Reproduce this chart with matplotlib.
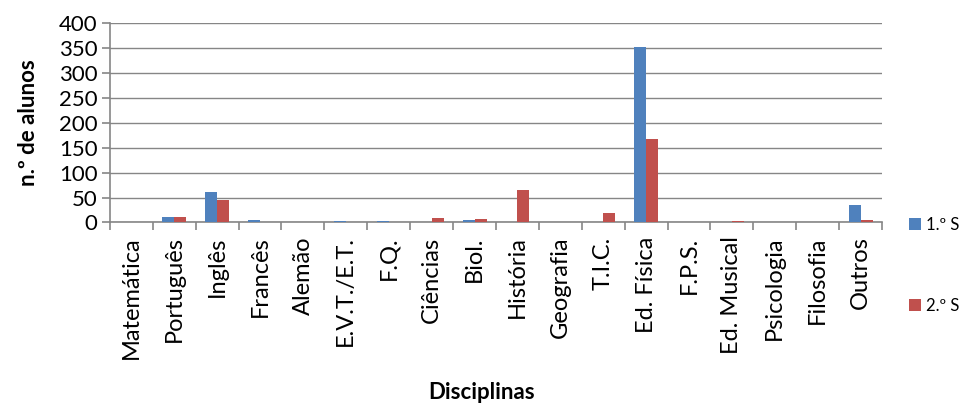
import numpy as np
import matplotlib
matplotlib.use('Agg')
import matplotlib.pyplot as plt

plt.rcParams['font.family'] = ['Lato', 'DejaVu Sans']

disciplinas = ['Matemática', 'Português', 'Inglês', 'Francês', 'Alemão', 'E.V.T./E.T.',
               'F.Q.', 'Ciências', 'Biol.', 'História', 'Geografia', 'T.I.C.',
               'Ed. Física', 'F.P.S.', 'Ed. Musical', 'Psicologia', 'Filosofia', 'Outros']
sem1 = [0, 11, 62, 6, 1, 3, 3, 0, 6, 2, 1, 0, 353, 0, 0, 1, 1, 35]
sem2 = [1, 11, 46, 2, 0, 0, 0, 9, 8, 65, 1, 20, 167, 0, 4, 0, 0, 6]
serie_labels = ['1.º S', '2.º S']

blue = '#4F81BD'
red = '#C0504D'
grid_c = '#868686'

fig = plt.figure(figsize=(9.64, 4.09), dpi=100)
ax = fig.add_axes([0.114, 0.456, 0.801, 0.487])

x = np.arange(len(disciplinas))
w = 0.28
b1 = ax.bar(x - w / 2, sem1, w, color=blue, label=serie_labels[0], zorder=3)
b2 = ax.bar(x + w / 2, sem2, w, color=red, label=serie_labels[1], zorder=3)

ax.set_xlim(-0.5, len(disciplinas) - 0.5)
ax.set_ylim(0, 400)
ax.set_yticks(np.arange(0, 401, 50))
ax.yaxis.grid(True, color=grid_c, linewidth=1.0, zorder=0)
ax.set_axisbelow(True)

ax.set_xticks(x)
ax.set_xticklabels(disciplinas, rotation=90, fontsize=17)
ax.tick_params(axis='x', length=0, pad=10)
ax.set_xticks(np.arange(-0.5, len(disciplinas) + 0.5, 1), minor=True)
ax.tick_params(axis='x', which='minor', length=6, color=grid_c, width=1.2, direction='out')
ax.tick_params(axis='y', labelsize=16, length=6, color=grid_c, width=1.2, direction='out', pad=3)

for s in ['top', 'right']:
    ax.spines[s].set_visible(False)
ax.spines['left'].set_color(grid_c)
ax.spines['bottom'].set_color(grid_c)
ax.spines['left'].set_linewidth(1.2)
ax.spines['bottom'].set_linewidth(1.2)

ax.set_ylabel('n.º de alunos', fontsize=16, fontweight='bold', labelpad=14)
fig.text(0.5, 0.025, 'Disciplinas', ha='center', fontsize=16, fontweight='bold')

fig.legend(handles=[b1, b2], labels=serie_labels, loc='center left',
           bbox_to_anchor=(0.943, 0.352), frameon=False, fontsize=12,
           handlelength=0.7, handleheight=0.7, handletextpad=0.3, labelspacing=3.9,
           borderaxespad=0, borderpad=0)

fig.savefig('out.png', dpi=100)
